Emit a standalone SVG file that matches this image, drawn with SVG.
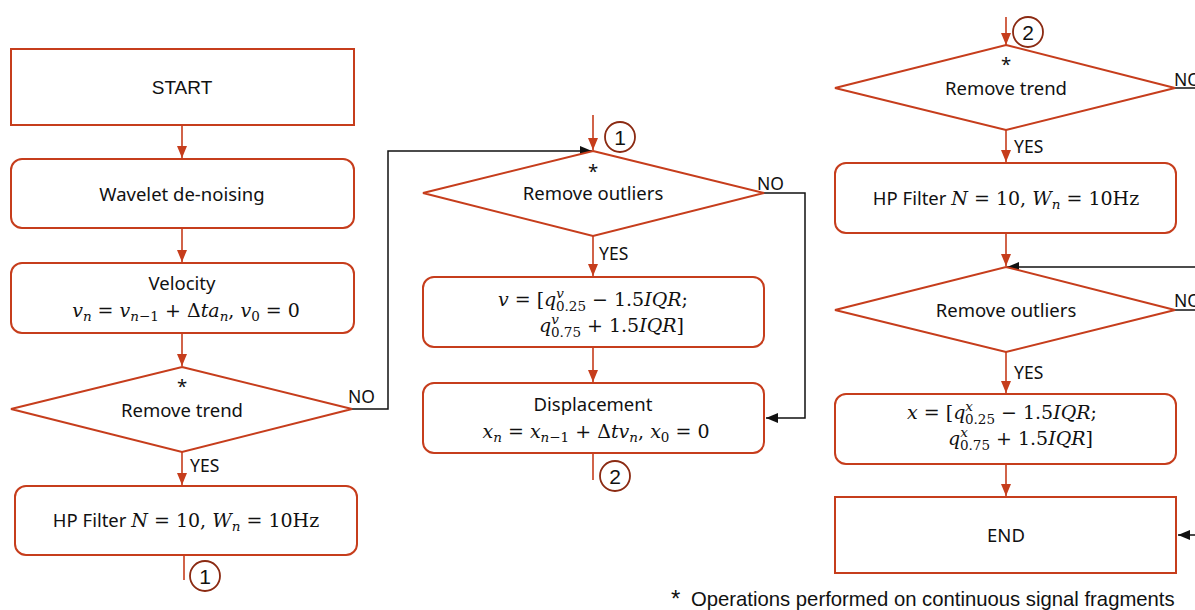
<svg xmlns="http://www.w3.org/2000/svg" width="1195" height="610" viewBox="0 0 1195 610">
<style>
.box{fill:#fff;stroke:#C63D1C;stroke-width:2}
.red{stroke:#C63D1C;stroke-width:1.6;fill:none}
.blk{stroke:#111;stroke-width:1.5;fill:none}
.lbl{font-family:"Noto Sans","DejaVu Sans",sans-serif;font-size:18.5px;fill:#111}
.yn{font-family:"Noto Sans","DejaVu Sans",sans-serif;font-size:17.5px;fill:#111}
.ar{font-family:"Liberation Sans",Arial,sans-serif;font-size:19px;fill:#111}
.m{font-family:"DejaVu Serif","Liberation Serif",serif;font-size:19px;fill:#111}
.i{font-style:italic}
.s{font-size:13.5px}
.cir{fill:#fff;stroke:#8B2A12;stroke-width:1.8}
.num{font-family:"Liberation Sans",Arial,sans-serif;font-size:21px;fill:#111}
.fn{font-family:"Liberation Sans",Arial,sans-serif;font-size:20.3px;fill:#111}
.ast{font-family:"Liberation Sans",Arial,sans-serif;font-size:24px;fill:#111}
</style>
<defs>
<marker id="ra" viewBox="0 0 12 10" refX="12" refY="5" markerWidth="12" markerHeight="10" markerUnits="userSpaceOnUse" orient="auto"><path d="M0,0 L12,5 L0,10 Z" fill="#C63D1C"/></marker>
<marker id="ba" viewBox="0 0 12 10" refX="12" refY="5" markerWidth="12" markerHeight="10" markerUnits="userSpaceOnUse" orient="auto"><path d="M0,0 L12,5 L0,10 Z" fill="#111"/></marker>
</defs>

<g id="connectors">
<line class="red" x1="182" y1="125" x2="182" y2="158" marker-end="url(#ra)"/>
<line class="red" x1="182" y1="228" x2="182" y2="262" marker-end="url(#ra)"/>
<line class="red" x1="182" y1="333" x2="182" y2="366" marker-end="url(#ra)"/>
<line class="red" x1="182" y1="452" x2="182" y2="485" marker-end="url(#ra)"/>
<line class="red" x1="184" y1="555" x2="184" y2="580"/>
<polyline class="blk" points="352,409 388,409 388,151 592,151" marker-end="url(#ba)"/>
<line class="red" x1="593" y1="115" x2="593" y2="150" marker-end="url(#ra)"/>
<line class="red" x1="593" y1="236" x2="593" y2="276" marker-end="url(#ra)"/>
<line class="red" x1="593" y1="347" x2="593" y2="382" marker-end="url(#ra)"/>
<line class="red" x1="593" y1="453" x2="593" y2="480"/>
<polyline class="blk" points="764,193 805,193 805,418 766,418" marker-end="url(#ba)"/>
<line class="red" x1="1006" y1="17" x2="1006" y2="45" marker-end="url(#ra)"/>
<line class="red" x1="1006" y1="130" x2="1006" y2="162" marker-end="url(#ra)"/>
<line class="red" x1="1006" y1="233" x2="1006" y2="266" marker-end="url(#ra)"/>
<line class="red" x1="1006" y1="352" x2="1006" y2="393" marker-end="url(#ra)"/>
<line class="red" x1="1006" y1="464" x2="1006" y2="496" marker-end="url(#ra)"/>
<line class="blk" x1="1175" y1="88" x2="1195" y2="88"/>
<line class="blk" x1="1175" y1="310" x2="1195" y2="310"/>
<line class="blk" x1="1195" y1="267" x2="1007" y2="267" marker-end="url(#ba)"/>
<line class="blk" x1="1195" y1="535" x2="1178" y2="535" marker-end="url(#ba)"/>
<text class="yn" x="348" y="403">NO</text>
<text class="yn" x="190" y="472">YES</text>
<text class="yn" x="757" y="190">NO</text>
<text class="yn" x="599" y="260">YES</text>
<text class="yn" x="1174" y="86">NO</text>
<text class="yn" x="1014" y="153">YES</text>
<text class="yn" x="1174" y="307">NO</text>
<text class="yn" x="1014" y="379">YES</text>
</g>

<g id="start">
<rect class="box" x="11" y="49" width="343" height="76"/>
<text class="ar" x="182" y="94" text-anchor="middle">START</text>
</g>
<g id="wavelet">
<rect class="box" x="11" y="159" width="343" height="69" rx="11"/>
<text class="lbl" x="182" y="201" text-anchor="middle">Wavelet de-noising</text>
</g>
<g id="velocity">
<rect class="box" x="11" y="263" width="343" height="70" rx="11"/>
<text class="lbl" x="182" y="290" text-anchor="middle">Velocity</text>
<text class="m" x="186" y="317" text-anchor="middle"><tspan class="i">v</tspan><tspan class="s i" dy="4">n</tspan><tspan dy="-4"> = </tspan><tspan class="i">v</tspan><tspan class="s" dy="4"><tspan class="i">n</tspan>−1</tspan><tspan dy="-4"> + Δ</tspan><tspan class="i">ta</tspan><tspan class="s i" dy="4">n</tspan><tspan dy="-4">, </tspan><tspan class="i">v</tspan><tspan class="s" dy="4">0</tspan><tspan dy="-4"> = 0</tspan></text>
</g>
<g id="trend1">
<polygon class="box" points="182,367 352,409 182,452 11,409"/>
<text class="lbl" x="182" y="393" text-anchor="middle">*</text>
<text class="lbl" x="182" y="417" text-anchor="middle">Remove trend</text>
</g>
<g id="hp1">
<rect class="box" x="15" y="486" width="342" height="69" rx="11"/>
<text class="lbl" x="186" y="527" text-anchor="middle">HP Filter <tspan class="m i">N</tspan><tspan class="m"> = 10, </tspan><tspan class="m i">W</tspan><tspan class="m s i" dy="4">n</tspan><tspan class="m" dy="-4"> = 10Hz</tspan></text>
</g>
<g id="conn1a">
<circle class="cir" cx="205" cy="576" r="15"/>
<text class="num" x="205" y="584" text-anchor="middle">1</text>
</g>

<g id="conn1b">
<circle class="cir" cx="620" cy="137" r="15"/>
<text class="num" x="620" y="145" text-anchor="middle">1</text>
</g>
<g id="outliers1">
<polygon class="box" points="593,151 764,193 593,236 423,193"/>
<text class="lbl" x="593" y="178" text-anchor="middle">*</text>
<text class="lbl" x="593" y="200" text-anchor="middle">Remove outliers</text>
</g>
<g id="vrange">
<rect class="box" x="423" y="277" width="341" height="70" rx="11"/>
<text class="m" x="688" y="306" text-anchor="end"><tspan class="i">v</tspan> = [<tspan class="i">q</tspan><tspan class="s i" dy="-8">v</tspan><tspan class="s" dx="-8" dy="13">0.25</tspan><tspan dy="-5"> − 1.5</tspan><tspan class="i">IQR</tspan>;</text>
<text class="m" x="684" y="332" text-anchor="end"><tspan class="i">q</tspan><tspan class="s i" dy="-8">v</tspan><tspan class="s" dx="-8" dy="13">0.75</tspan><tspan dy="-5"> + 1.5</tspan><tspan class="i">IQR</tspan>]</text>
</g>
<g id="displacement">
<rect class="box" x="423" y="383" width="341" height="70" rx="11"/>
<text class="lbl" x="593" y="411" text-anchor="middle">Displacement</text>
<text class="m" x="596" y="438" text-anchor="middle"><tspan class="i">x</tspan><tspan class="s i" dy="4">n</tspan><tspan dy="-4"> = </tspan><tspan class="i">x</tspan><tspan class="s" dy="4"><tspan class="i">n</tspan>−1</tspan><tspan dy="-4"> + Δ</tspan><tspan class="i">tv</tspan><tspan class="s i" dy="4">n</tspan><tspan dy="-4">, </tspan><tspan class="i">x</tspan><tspan class="s" dy="4">0</tspan><tspan dy="-4"> = 0</tspan></text>
</g>
<g id="conn2a">
<circle class="cir" cx="615" cy="476" r="15"/>
<text class="num" x="615" y="484" text-anchor="middle">2</text>
</g>

<g id="conn2b">
<circle class="cir" cx="1028" cy="32" r="15"/>
<text class="num" x="1028" y="40" text-anchor="middle">2</text>
</g>
<g id="trend2">
<polygon class="box" points="1006,45 1175,88 1006,130 835,88"/>
<text class="lbl" x="1006" y="71" text-anchor="middle">*</text>
<text class="lbl" x="1006" y="95" text-anchor="middle">Remove trend</text>
</g>
<g id="hp2">
<rect class="box" x="835" y="163" width="341" height="70" rx="11"/>
<text class="lbl" x="1006" y="205" text-anchor="middle">HP Filter <tspan class="m i">N</tspan><tspan class="m"> = 10, </tspan><tspan class="m i">W</tspan><tspan class="m s i" dy="4">n</tspan><tspan class="m" dy="-4"> = 10Hz</tspan></text>
</g>
<g id="outliers2">
<polygon class="box" points="1006,267 1175,310 1006,352 835,310"/>
<text class="lbl" x="1006" y="317" text-anchor="middle">Remove outliers</text>
</g>
<g id="xrange">
<rect class="box" x="835" y="394" width="341" height="70" rx="11"/>
<text class="m" x="1097" y="419" text-anchor="end"><tspan class="i">x</tspan> = [<tspan class="i">q</tspan><tspan class="s i" dy="-8">x</tspan><tspan class="s" dx="-8" dy="13">0.25</tspan><tspan dy="-5"> − 1.5</tspan><tspan class="i">IQR</tspan>;</text>
<text class="m" x="1093" y="445" text-anchor="end"><tspan class="i">q</tspan><tspan class="s i" dy="-8">x</tspan><tspan class="s" dx="-8" dy="13">0.75</tspan><tspan dy="-5"> + 1.5</tspan><tspan class="i">IQR</tspan>]</text>
</g>
<g id="end">
<rect class="box" x="835" y="497" width="341" height="76"/>
<text class="lbl" x="1006" y="542" text-anchor="middle">END</text>
</g>

<g id="footnote">
<text class="ast" x="671" y="607">*</text>
<text class="fn" x="691" y="606">Operations performed on continuous signal fragments</text>
</g>
</svg>
